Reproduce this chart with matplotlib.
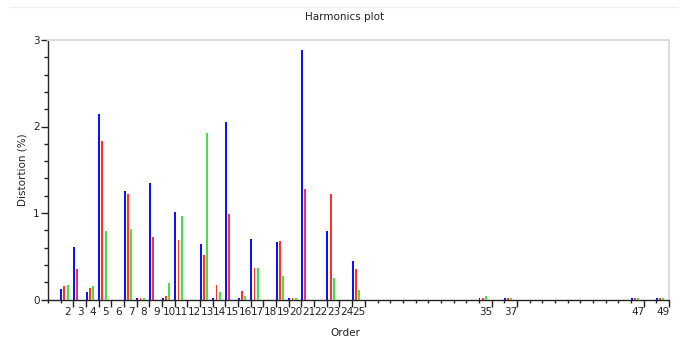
import matplotlib
matplotlib.use("Agg")
import matplotlib.pyplot as plt
from matplotlib.ticker import FixedLocator, MultipleLocator, NullFormatter
from matplotlib.lines import Line2D

# ---- data ----
orders = [2, 3, 4, 5, 7, 8, 9, 10, 11, 13, 14, 15, 16, 17, 19, 20, 21, 23, 25, 35, 37, 47, 49]
blue_vals = [0.12, 0.61, 0.09, 2.15, 1.26, 0.015, 1.35, 0.015, 1.01, 0.64, 0.015, 2.05, 0.015, 0.70,
             0.667, 0.015, 2.89, 0.79, 0.44, 0.02, 0.02, 0.02, 0.02]
red_vals = [0.157, 0.355, 0.135, 1.83, 1.22, 0.015, 0.72, 0.04, 0.69, 0.52, 0.17, 0.99, 0.095, 0.366,
            0.678, 0.015, 1.277, 1.22, 0.355, 0.02, 0.02, 0.02, 0.02]
green_vals = [0.17, 0.0, 0.157, 0.79, 0.81, 0.015, 0.0, 0.185, 0.96, 1.92, 0.09, 0.0, 0.04, 0.366,
              0.273, 0.015, 0.0, 0.25, 0.107, 0.04, 0.02, 0.02, 0.02]
labelled_orders = list(range(2, 26)) + [35, 37, 47, 49]
all_orders = list(range(1, 50))

plt.rcParams['font.family'] = ['DejaVu Sans']
fig = plt.figure(figsize=(6.93, 3.39), dpi=100)
ax = fig.add_axes([48/693, 1-299.5/339, (669-48)/693, (299.5-40)/339])

w = 0.15
for vals, off, col in [(blue_vals, 0.0, '#1010ff'), (red_vals, 0.25, '#ff3030'), (green_vals, 0.50, '#44e044')]:
    ax.bar([o - 0.5 + off - 0.03 for o in orders], vals, width=w, align='edge', color=col,
           linewidth=0, zorder=3, antialiased=False)

ax.set_xlim(0.5, 49.5)
ax.set_ylim(0, 3)

# x ticks: boundaries between orders, longer at labelled orders
major_b = [o + 0.5 for o in labelled_orders]
minor_b = [o + 0.5 for o in all_orders if o not in labelled_orders] + [0.5]
ax.xaxis.set_major_locator(FixedLocator(major_b))
ax.xaxis.set_minor_locator(FixedLocator(minor_b))
ax.xaxis.set_major_formatter(NullFormatter())
ax.tick_params(axis='x', which='major', length=5, width=1, color='#222222')
ax.tick_params(axis='x', which='minor', length=2.5, width=1, color='#222222')
for o in labelled_orders:
    ax.text(o + 0.05, -0.09, str(o), ha='center', va='top', fontsize=7.5, color='#222222',
            transform=ax.transData)

ax.yaxis.set_major_locator(MultipleLocator(1))
ax.yaxis.set_minor_locator(MultipleLocator(0.2))
ax.tick_params(axis='y', which='major', length=5, width=1, labelsize=7.5, pad=1, color='#222222',
               labelcolor='#222222')
ax.tick_params(axis='y', which='minor', length=3, width=1, color='#222222')

for s in ['left', 'bottom']:
    ax.spines[s].set_color('#222222')
    ax.spines[s].set_linewidth(1.0)
for s in ['top', 'right']:
    ax.spines[s].set_color('#dcdcdc')
    ax.spines[s].set_linewidth(1.5)

ax.set_ylabel('Distortion (%)', fontsize=7.5, color='#222222', labelpad=4)
fig.text(345/693, 1-333/339, 'Order', ha='center', va='center', fontsize=7.5, color='#222222')
fig.text(345/693, 1-17/339, 'Harmonics plot', ha='center', va='center', fontsize=7.5, color='#222222')

# faint outer container line
fig.add_artist(Line2D([10/693, 677/693], [1-7/339, 1-7/339], color='#eef0f4', linewidth=1,
                      transform=fig.transFigure))

fig.savefig('out.png', dpi=100)
